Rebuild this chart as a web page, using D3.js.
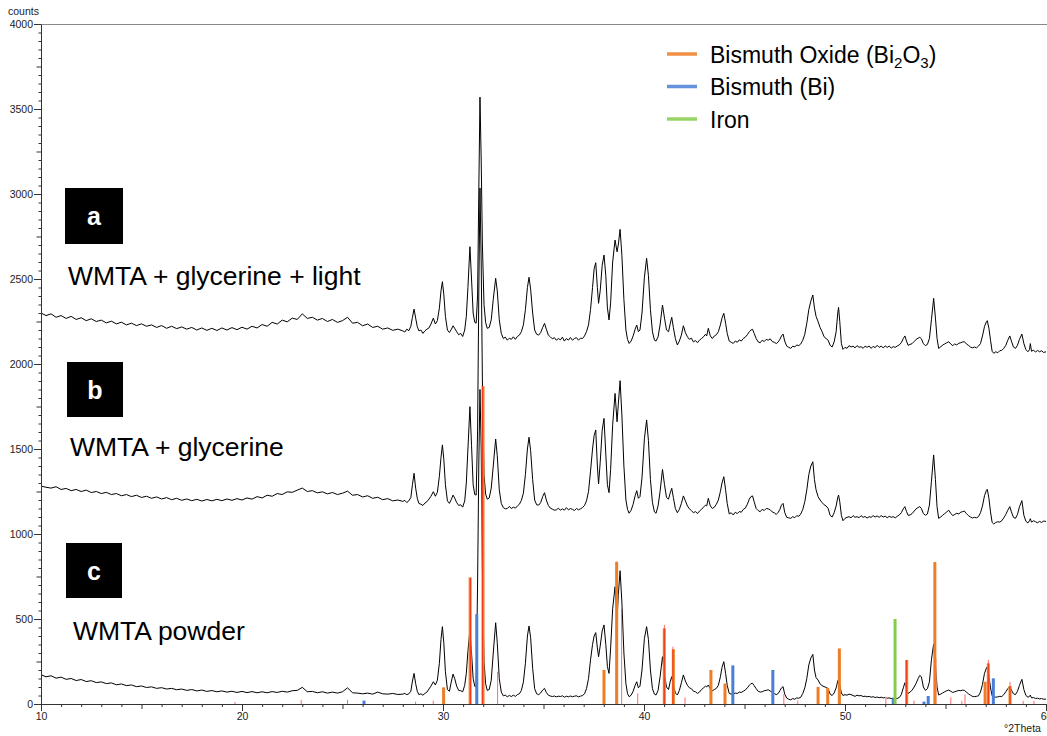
<!DOCTYPE html>
<html>
<head>
<meta charset="utf-8">
<script src="https://cdn.jsdelivr.net/npm/d3@7"></script>
<style>
  html, body { margin: 0; padding: 0; background: #fff; }
  svg { display: block; font-family: Arial, "Liberation Sans", sans-serif; }
</style>
</head>
<body>
<svg id="chart" width="1047" height="736"></svg>
<script>
// 2theta positions shared by the three scans
const twoTheta = [
  10, 10.25, 10.5, 10.75, 11, 11.25, 11.5, 11.75, 12, 12.25,
  12.5, 12.75, 13, 13.25, 13.5, 13.75, 14, 14.25, 14.5, 14.75,
  15, 15.25, 15.5, 15.75, 16, 16.25, 16.5, 16.75, 17, 17.25,
  17.5, 17.75, 18, 18.25, 18.5, 18.75, 19, 19.25, 19.5, 19.75,
  20, 20.25, 20.5, 20.75, 21, 21.25, 21.5, 21.75, 22, 22.25,
  22.5, 22.75, 23, 23.25, 23.5, 23.75, 24, 24.25, 24.5, 24.75,
  25, 25.25, 25.5, 25.75, 26, 26.25, 26.5, 26.75, 27, 27.25,
  27.5, 27.75, 28,
  28.1, 28.2, 28.3, 28.4, 28.48, 28.56, 28.64, 28.72, 28.8, 28.9,
  29.0, 29.1, 29.2, 29.3, 29.4, 29.52, 29.62, 29.72, 29.82, 29.9,
  29.97, 30.04, 30.12, 30.22, 30.32, 30.42, 30.5, 30.58, 30.68, 30.78,
  30.88, 30.98, 31.08, 31.16, 31.24, 31.34, 31.42, 31.5, 31.58, 31.65,
  31.72, 31.78, 31.84, 31.9, 31.96, 32.04, 32.12, 32.2, 32.3, 32.4,
  32.5, 32.62, 32.7, 32.8, 32.9, 33.0, 33.1, 33.2, 33.3, 33.4,
  33.5, 33.6, 33.7, 33.8, 33.9, 34.0, 34.1, 34.2, 34.28, 34.36,
  34.46, 34.56, 34.66, 34.76, 34.86, 34.96, 35.05, 35.14, 35.24, 35.34,
  35.44, 35.54, 35.64, 35.74, 35.84, 35.94, 36.04, 36.14, 36.24, 36.34,
  36.44, 36.54, 36.64, 36.74, 36.84, 36.94, 37.04, 37.14, 37.24, 37.34,
  37.44, 37.52, 37.6, 37.68, 37.74, 37.82, 37.92, 38.01, 38.1, 38.18,
  38.26, 38.34, 38.44, 38.56, 38.66, 38.72, 38.81, 38.9, 39.0, 39.1,
  39.18, 39.26, 39.36, 39.46, 39.56, 39.64, 39.72, 39.8, 39.9, 40.02,
  40.13, 40.22, 40.32, 40.42, 40.52, 40.6, 40.7, 40.8, 40.92, 41.02,
  41.12, 41.22, 41.3, 41.38, 41.46, 41.56, 41.66, 41.76, 41.86, 41.96,
  42.06, 42.16, 42.26, 42.36, 42.46, 42.56, 42.66, 42.76, 42.86, 42.96,
  43.06, 43.12, 43.2, 43.3, 43.4, 43.5, 43.6, 43.7, 43.8, 43.88,
  43.97, 44.06, 44.14, 44.24, 44.34, 44.44, 44.54, 44.64, 44.74, 44.84,
  44.94, 45.04, 45.14, 45.24, 45.32, 45.4, 45.48, 45.58, 45.68, 45.78,
  45.88, 45.98, 46.08, 46.18, 46.28, 46.38, 46.48, 46.58, 46.68, 46.76,
  46.84, 46.92, 47.0, 47.1, 47.2, 47.3, 47.4, 47.5, 47.6, 47.7,
  47.8, 47.9, 48.0, 48.1, 48.2, 48.3, 48.4, 48.48, 48.56, 48.66,
  48.76, 48.86, 48.96, 49.06, 49.16, 49.26, 49.36, 49.46, 49.56, 49.64,
  49.68, 49.74, 49.82, 49.9, 50.0, 50.1, 50.2, 50.3, 50.4, 50.5,
  50.6, 50.7, 50.8, 50.9, 51.0, 51.1, 51.2, 51.3, 51.4, 51.5,
  51.6, 51.7, 51.8, 51.9, 52.0, 52.1, 52.2, 52.3, 52.4, 52.5,
  52.6, 52.7, 52.8, 52.9, 52.98, 53.06, 53.14, 53.24, 53.34, 53.44,
  53.54, 53.64, 53.72, 53.8, 53.9, 54.0, 54.1, 54.2, 54.3, 54.41,
  54.5, 54.58, 54.66, 54.76, 54.86, 54.96, 55.06, 55.16, 55.26, 55.36,
  55.46, 55.56, 55.66, 55.76, 55.86, 55.94, 56.04, 56.14, 56.24, 56.34,
  56.44, 56.54, 56.64, 56.74, 56.84, 56.94, 57.04, 57.08, 57.16, 57.24,
  57.32, 57.4, 57.5, 57.6, 57.7, 57.8, 57.9, 58.0, 58.1, 58.2,
  58.28, 58.38, 58.48, 58.58, 58.68, 58.8, 58.9, 59.0, 59.1, 59.18,
  59.22, 59.28, 59.38, 59.48, 59.58, 59.68, 59.78, 59.88, 60.0
];

// a: WMTA + glycerine + light
const countsLight = [
  2300, 2285, 2295, 2275, 2285, 2268, 2280, 2262, 2272, 2255,
  2266, 2250, 2258, 2242, 2252, 2236, 2246, 2230, 2240, 2226,
  2236, 2222, 2230, 2215, 2226, 2210, 2222, 2208, 2218, 2205,
  2215, 2200, 2212, 2198, 2210, 2197, 2212, 2200, 2214, 2202,
  2216, 2205, 2222, 2212, 2232, 2222, 2245, 2235, 2258, 2248,
  2270, 2262, 2295, 2268, 2275, 2258, 2268, 2250, 2262, 2245,
  2255, 2275, 2240, 2245, 2225, 2235, 2215, 2222, 2205, 2212,
  2198, 2205, 2195,
  2188, 2205, 2196, 2222, 2275, 2323, 2270, 2220, 2195, 2200,
  2180, 2195, 2205, 2212, 2235, 2270, 2235, 2255, 2330, 2430,
  2484, 2410, 2280, 2200, 2185, 2205, 2225, 2210, 2190, 2172,
  2180, 2162, 2200, 2280, 2450, 2690, 2500, 2300, 2245, 2240,
  2400, 3000, 3570, 3200, 2700, 2350, 2245, 2210, 2215, 2260,
  2380, 2504, 2430, 2260, 2180, 2150, 2158, 2140, 2152, 2145,
  2160, 2145, 2162, 2170, 2190, 2230, 2320, 2450, 2510, 2440,
  2300, 2200, 2175, 2170, 2185, 2215, 2239, 2205, 2170, 2160,
  2148, 2155, 2140, 2150, 2142, 2158, 2135, 2150, 2140, 2156,
  2140, 2150, 2155, 2140, 2152, 2150, 2165, 2190, 2230, 2320,
  2450, 2560, 2596, 2450, 2357, 2430, 2580, 2641, 2520, 2330,
  2259, 2360, 2600, 2729, 2660, 2700, 2792, 2640, 2380, 2200,
  2145, 2121, 2135, 2165, 2205, 2229, 2190, 2200, 2300, 2510,
  2622, 2520, 2320, 2190, 2140, 2135, 2160, 2230, 2347, 2270,
  2200, 2190, 2235, 2275, 2215, 2150, 2112, 2135, 2170, 2225,
  2185, 2160, 2145, 2152, 2130, 2138, 2125, 2140, 2150, 2160,
  2175, 2165, 2210, 2165, 2150, 2165, 2172, 2190, 2230, 2270,
  2298, 2240, 2180, 2135, 2128, 2121, 2135, 2128, 2142, 2135,
  2150, 2158, 2172, 2190, 2200, 2204, 2180, 2150, 2130, 2125,
  2140, 2132, 2145, 2140, 2148, 2132, 2128, 2120, 2130, 2145,
  2165, 2176, 2135, 2105, 2098, 2092, 2105, 2100, 2112, 2108,
  2118, 2140, 2175, 2240, 2320, 2370, 2406, 2330, 2280, 2250,
  2215, 2190, 2160, 2150, 2140, 2110, 2100, 2130, 2190, 2300,
  2333, 2250, 2120, 2086, 2098, 2092, 2108, 2100, 2105, 2095,
  2108, 2098, 2102, 2092, 2105, 2098, 2106, 2092, 2104, 2096,
  2110, 2098, 2105, 2095, 2106, 2098, 2105, 2094, 2102, 2098,
  2106, 2112, 2125, 2150, 2165, 2135, 2110, 2115, 2120, 2132,
  2145, 2152, 2157, 2148, 2120, 2108, 2115, 2150, 2260, 2386,
  2270, 2150, 2092, 2100, 2112, 2118, 2125, 2131, 2118, 2108,
  2118, 2112, 2122, 2125, 2130, 2131, 2118, 2110, 2100, 2095,
  2100, 2095, 2105, 2120, 2165, 2220, 2250, 2255, 2210, 2140,
  2075, 2063, 2072, 2066, 2078, 2080, 2092, 2110, 2140, 2165,
  2135, 2100, 2092, 2110, 2145, 2176, 2120, 2085, 2072, 2085,
  2120, 2075, 2082, 2070, 2080, 2072, 2078, 2068, 2072
];

// b: WMTA + glycerine
const countsGlycerine = [
  1282, 1275, 1270, 1278, 1262, 1268, 1255, 1262, 1250, 1258,
  1244, 1250, 1238, 1245, 1232, 1238, 1225, 1232, 1220, 1228,
  1215, 1222, 1210, 1218, 1206, 1214, 1202, 1210, 1198, 1206,
  1196, 1204, 1194, 1203, 1195, 1204, 1196, 1206, 1198, 1208,
  1200, 1212, 1205, 1220, 1212, 1228, 1222, 1238, 1232, 1248,
  1245, 1258, 1270, 1250, 1255, 1242, 1248, 1236, 1244, 1232,
  1240, 1252, 1228, 1232, 1218, 1225, 1210, 1216, 1202, 1208,
  1195, 1200, 1192,
  1198, 1185, 1195, 1215, 1290, 1357, 1270, 1210, 1180, 1175,
  1168, 1182, 1190, 1205, 1222, 1249, 1222, 1245, 1340, 1450,
  1524, 1440, 1290, 1195, 1180, 1205, 1229, 1212, 1185, 1168,
  1172, 1158, 1195, 1300, 1500, 1749, 1520, 1290, 1232, 1229,
  1600, 2400, 3035, 2600, 1900, 1350, 1235, 1205, 1212, 1270,
  1400, 1559, 1460, 1260, 1180, 1155, 1148, 1150, 1162, 1150,
  1158, 1152, 1165, 1175, 1198, 1240, 1350, 1500, 1569, 1490,
  1320, 1200, 1172, 1170, 1185, 1220, 1243, 1200, 1168, 1152,
  1146, 1140, 1142, 1152, 1140, 1148, 1140, 1155, 1142, 1150,
  1145, 1138, 1150, 1142, 1148, 1155, 1168, 1195, 1250, 1370,
  1500, 1580, 1612, 1400, 1294, 1420, 1610, 1680, 1470, 1290,
  1243, 1380, 1640, 1827, 1660, 1760, 1902, 1700, 1400, 1200,
  1145, 1122, 1140, 1175, 1225, 1255, 1210, 1220, 1330, 1560,
  1671, 1550, 1320, 1185, 1130, 1122, 1165, 1250, 1380, 1290,
  1215, 1205, 1240, 1269, 1215, 1150, 1125, 1145, 1180, 1224,
  1195, 1165, 1148, 1138, 1125, 1132, 1120, 1135, 1145, 1158,
  1170, 1165, 1210, 1165, 1150, 1158, 1175, 1200, 1250, 1300,
  1337, 1260, 1180, 1118, 1125, 1112, 1128, 1120, 1132, 1128,
  1145, 1152, 1175, 1205, 1220, 1224, 1190, 1150, 1138, 1131,
  1145, 1138, 1150, 1148, 1142, 1130, 1125, 1115, 1128, 1145,
  1170, 1180, 1128, 1098, 1095, 1092, 1102, 1096, 1108, 1104,
  1118, 1145, 1190, 1260, 1350, 1400, 1425, 1320, 1260, 1220,
  1200, 1185, 1172, 1165, 1150, 1110, 1100, 1125, 1165, 1215,
  1229, 1190, 1110, 1078, 1092, 1098, 1102, 1095, 1108, 1098,
  1102, 1096, 1108, 1098, 1103, 1094, 1102, 1098, 1108, 1100,
  1106, 1098, 1108, 1100, 1105, 1096, 1104, 1098, 1102, 1095,
  1104, 1112, 1125, 1148, 1161, 1132, 1110, 1112, 1120, 1135,
  1148, 1156, 1161, 1150, 1120, 1110, 1118, 1170, 1310, 1465,
  1320, 1160, 1092, 1100, 1110, 1120, 1130, 1140, 1122, 1108,
  1115, 1122, 1118, 1128, 1132, 1135, 1120, 1108, 1100, 1094,
  1098, 1095, 1102, 1125, 1165, 1225, 1258, 1263, 1210, 1130,
  1068, 1059, 1068, 1072, 1070, 1078, 1095, 1115, 1140, 1161,
  1130, 1098, 1092, 1115, 1160, 1196, 1110, 1075, 1065, 1078,
  1090, 1070, 1078, 1072, 1066, 1074, 1068, 1076, 1074
];

// c: WMTA powder
const countsPowder = [
  172, 160, 166, 152, 158, 145, 150, 138, 144, 132,
  137, 126, 130, 120, 124, 113, 118, 108, 112, 102,
  106, 97, 101, 92, 96, 88, 92, 84, 88, 80,
  85, 77, 82, 74, 79, 72, 77, 70, 75, 68,
  74, 67, 73, 66, 72, 66, 73, 68, 75, 70,
  78, 80, 98, 72, 74, 66, 72, 64, 70, 64,
  72, 95, 66, 64, 60, 64, 58, 70, 60, 58,
  62, 56, 58,
  62, 55, 60, 75, 135, 180, 120, 75, 55, 60,
  52, 62, 70, 88, 105, 131, 112, 140, 240, 380,
  455, 360, 190, 85, 75, 135, 176, 150, 105, 80,
  78, 72, 110, 180, 310, 435, 300, 150, 104, 102,
  700, 1400, 1850, 1500, 800, 250, 120, 80, 85, 140,
  300, 478, 360, 150, 70, 48, 52, 43, 50, 44,
  52, 45, 55, 60, 80, 130, 240, 400, 459, 390,
  210, 90, 60, 55, 65, 82, 92, 68, 52, 47,
  44, 47, 42, 46, 44, 48, 40, 46, 42, 47,
  43, 46, 48, 42, 46, 50, 60, 90, 150, 260,
  350, 400, 420, 330, 278, 340, 430, 465, 350, 220,
  180, 330, 560, 690, 500, 640, 784, 600, 300, 120,
  60, 43, 52, 75, 110, 131, 95, 105, 200, 385,
  455, 380, 200, 90, 58, 53, 80, 160, 278, 170,
  100, 85, 130, 161, 110, 65, 53, 80, 125, 171,
  135, 110, 95, 90, 75, 72, 62, 70, 85, 95,
  105, 100, 112, 88, 78, 85, 92, 110, 160, 215,
  249, 180, 110, 62, 58, 60, 64, 62, 70, 68,
  75, 82, 95, 110, 120, 122, 108, 90, 75, 70,
  72, 78, 80, 84, 76, 70, 62, 55, 62, 78,
  95, 102, 58, 35, 28, 24, 32, 28, 36, 34,
  40, 62, 95, 150, 230, 270, 292, 200, 155, 141,
  118, 108, 102, 98, 90, 58, 50, 65, 95, 135,
  145, 110, 65, 50, 55, 52, 58, 55, 50, 45,
  52, 48, 50, 44, 46, 42, 45, 40, 43, 38,
  41, 37, 40, 36, 38, 34, 36, 32, 34, 30,
  33, 38, 55, 95, 125, 90, 62, 70, 82, 100,
  122, 150, 168, 160, 100, 80, 90, 130, 260, 353,
  230, 100, 53, 58, 65, 72, 78, 82, 75, 68,
  72, 76, 80, 78, 82, 80, 70, 60, 52, 45,
  43, 45, 48, 70, 115, 180, 212, 219, 165, 95,
  48, 43, 40, 42, 45, 44, 55, 72, 90, 102,
  82, 60, 55, 75, 110, 145, 85, 50, 40, 45,
  52, 36, 38, 32, 34, 30, 32, 28, 29
];

// reference patterns: [2theta, counts]
const bismuthOxideLines = [
  [30.03, 98], [31.35, 745], [31.99, 1870], [38.01, 200], [38.64, 837],
  [41.01, 445], [41.46, 322], [43.33, 200], [44.03, 120], [48.66, 100],
  [49.14, 95], [49.72, 327], [53.07, 259], [54.47, 835], [56.97, 131],
  [57.13, 239], [58.21, 106]
];
const bismuthLines = [
  [26.07, 20], [31.68, 529], [44.42, 227], [46.41, 200], [52.40, 33],
  [53.93, 14], [54.14, 47], [57.38, 151]
];
const ironLines = [[52.49, 500]];
const otherRedLines = [
  [19.65, 12], [25.25, 25], [28.64, 14], [31.37, 740], [31.97, 1870],
  [32.72, 190], [38.89, 560], [39.69, 63], [41.01, 465], [41.44, 337],
  [53.05, 259], [57.13, 259], [58.21, 131]
];
const otherPinkLines = [
  [22.95, 25], [29.52, 20], [42.04, 39], [46.95, 58], [47.64, 20],
  [52.03, 43], [53.43, 20], [54.52, 269], [55.26, 39], [55.81, 18],
  [55.97, 57], [58.87, 18], [59.40, 18]
];

const sampleLabels = ["a", "b", "c"];
const sampleNames = ["WMTA + glycerine + light", "WMTA + glycerine", "WMTA powder"];
const legendNames = ["Bismuth Oxide", "Bismuth (Bi)", "Iron"];

const colors = {
  oxide: "#ee7d25",
  bismuth: "#4a7fd6",
  iron: "#86cc4a",
  red: "#f01010",
  pink: "#ff9a9a"
};

const svg = d3.select("#chart");
const x = d3.scaleLinear().domain([10, 60]).range([41, 1046]);
const y = d3.scaleLinear().domain([0, 4000]).range([704, 24]);

if (countsLight.length !== twoTheta.length || countsGlycerine.length !== twoTheta.length ||
    countsPowder.length !== twoTheta.length) {
  throw new Error("length mismatch " + twoTheta.length + " " + countsLight.length + " " +
    countsGlycerine.length + " " + countsPowder.length);
}

// top frame line
svg.append("line")
  .attr("x1", 41).attr("x2", 1047)
  .attr("y1", 24.5).attr("y2", 24.5)
  .attr("stroke", "#888").attr("stroke-width", 1);

// traces
const line = d3.line()
  .x(d => x(d[0]))
  .y(d => y(d[1]));

[countsLight, countsGlycerine, countsPowder].forEach(function (counts) {
  svg.append("path")
    .datum(twoTheta.map((t, i) => [t, counts[i]]))
    .attr("fill", "none")
    .attr("stroke", "#000")
    .attr("stroke-width", 1)
    .attr("stroke-linejoin", "round")
    .attr("d", line);
});

// stick patterns
function sticks(data, color, w, opacity) {
  svg.append("g")
    .selectAll("rect")
    .data(data)
    .enter()
    .append("rect")
    .attr("x", d => x(d[0]) - w / 2)
    .attr("width", w)
    .attr("y", d => y(d[1]))
    .attr("height", d => y(0) - y(d[1]))
    .attr("fill", color)
    .attr("fill-opacity", opacity);
}
sticks(otherPinkLines, colors.pink, 1.5, 1);
sticks(bismuthOxideLines, colors.oxide, 3, 1);
sticks(bismuthLines, colors.bismuth, 3, 1);
sticks(ironLines, colors.iron, 3, 1);
sticks(otherRedLines, colors.red, 0.8, 0.75);

// y axis
const yAxis = svg.append("g")
  .attr("transform", "translate(41,0)")
  .call(d3.axisLeft(y)
    .tickValues(d3.range(0, 4001, 50))
    .tickFormat(d => d % 500 === 0 ? d : "")
    .tickSizeOuter(0));
yAxis.select(".domain").attr("stroke", "#333");
yAxis.selectAll(".tick line")
  .attr("stroke", "#333")
  .attr("x2", d => d % 500 === 0 ? -7 : (d % 250 === 0 ? -4.5 : -2.5));
yAxis.selectAll(".tick text")
  .attr("x", -8)
  .attr("fill", "#222")
  .style("font-size", "10.5px")
  .style("font-family", "Arial, 'Liberation Sans', sans-serif");

// x axis
const xAxis = svg.append("g")
  .attr("transform", "translate(0,704)")
  .call(d3.axisBottom(x)
    .tickValues(d3.range(10, 61, 1))
    .tickFormat(d => d % 10 === 0 ? d : "")
    .tickSizeOuter(0));
xAxis.select(".domain").attr("stroke", "#333");
xAxis.selectAll(".tick line")
  .attr("stroke", "#333")
  .attr("y2", d => d % 10 === 0 ? 7 : (d % 5 === 0 ? 5 : 3));
xAxis.selectAll(".tick text")
  .attr("y", 9)
  .attr("fill", "#222")
  .style("font-size", "10.5px")
  .style("font-family", "Arial, 'Liberation Sans', sans-serif");

svg.append("text")
  .attr("x", 8).attr("y", 15)
  .style("font-size", "10.5px")
  .attr("fill", "#222")
  .text("counts");

svg.append("text")
  .attr("x", 1004).attr("y", 732)
  .style("font-size", "10.5px")
  .attr("fill", "#222")
  .text("°2Theta");

// sample labels
const boxes = [
  {x: 65, y: 188, w: 58, h: 56, tx: 68, ty: 285},
  {x: 67, y: 362, w: 56, h: 55, tx: 70, ty: 456},
  {x: 66, y: 543, w: 56, h: 55, tx: 73, ty: 640}
];
boxes.forEach(function (b, i) {
  svg.append("rect")
    .attr("x", b.x).attr("y", b.y)
    .attr("width", b.w).attr("height", b.h)
    .attr("fill", "#000");
  svg.append("text")
    .attr("x", b.x + b.w / 2).attr("y", b.y + b.h / 2 + 9)
    .attr("text-anchor", "middle")
    .attr("fill", "#fff")
    .style("font-size", "25px")
    .style("font-weight", "bold")
    .text(sampleLabels[i]);
  svg.append("text")
    .attr("x", b.tx).attr("y", b.ty)
    .attr("fill", "#000")
    .style("font-size", "26.5px")
    .text(sampleNames[i]);
});

// legend
const legendColors = [colors.oxide, colors.bismuth, colors.iron];
legendNames.forEach(function (name, i) {
  const ly = 54 + i * 32.5;
  svg.append("line")
    .attr("x1", 667).attr("x2", 697)
    .attr("y1", ly).attr("y2", ly)
    .attr("stroke", legendColors[i])
    .attr("stroke-opacity", 0.85)
    .attr("stroke-width", 3.5);
  const t = svg.append("text")
    .attr("x", 710).attr("y", ly + 8.5)
    .attr("fill", "#000")
    .style("font-size", "23px");
  if (i === 0) {
    t.append("tspan").text(name + " (Bi");
    t.append("tspan").attr("dy", 5).style("font-size", "15px").text("2");
    t.append("tspan").attr("dy", -5).text("O");
    t.append("tspan").attr("dy", 5).style("font-size", "15px").text("3");
    t.append("tspan").attr("dy", -5).text(")");
  } else {
    t.text(name);
  }
});
</script>
</body>
</html>
